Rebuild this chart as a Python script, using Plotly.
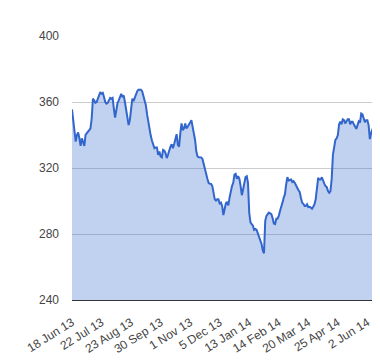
import plotly.graph_objects as go

tick_labels = ["18 Jun 13", "22 Jul 13", "23 Aug 13", "30 Sep 13", "1 Nov 13",
               "5 Dec 13", "13 Jan 14", "14 Feb 14", "20 Mar 14", "25 Apr 14", "2 Jun 14"]
tick_every = 24

prices = [
    355.5, 348, 341, 336, 340, 341.5, 338, 333.4, 338, 335,
    333.4, 340, 341.5, 342, 343, 344, 350, 362, 361, 359.5,
    360, 362.5, 364, 366, 365, 365.5, 363, 360, 359, 359.5,
    361, 362.5, 362, 362.5, 356, 350.5, 355, 359.5, 361, 363,
    365, 363, 364, 360, 355, 351, 346, 349, 357, 362,
    360.5, 362.5, 365.5, 366.5, 367.5, 367.5, 367.5, 366.5, 364, 360.5,
    358, 352.5, 347.5, 343, 339.5, 336.5, 333.5, 332, 332.5, 332.5,
    328, 330, 327, 326.4, 331, 330.5, 329, 326, 328, 331.5,
    333, 334.4, 332, 334.5, 338, 340.5, 334, 333, 341, 347,
    343, 344, 347, 344, 345, 346, 347.5, 349, 345, 340.5,
    337, 330, 327, 326.5, 326.4, 326.4, 325.5, 323, 319.5, 316.5,
    313.5, 311, 310.5, 310.4, 309, 305, 301, 300.3, 301, 301,
    298.5, 299, 297, 291.5, 295, 298.5, 299.5, 297.3, 302, 306.5,
    309, 311, 316, 316.5, 313.5, 315, 313.5, 309, 303.5, 307,
    311, 314.5, 315, 311, 293, 287, 286, 285, 282.5, 283,
    282.5, 280.5, 277.3, 276.5, 274, 270, 268.3, 288, 291, 292,
    293, 292.5, 292, 289.5, 286.3, 286, 289.3, 289.3, 291, 294,
    296, 299, 302, 304, 310, 314.4, 312.5, 313, 313, 311.5,
    312, 311, 309, 308, 306.5, 305.5, 302, 299, 298.3, 297,
    297, 298, 296.3, 296.5, 296, 295.3, 296.5, 298, 301, 306,
    314, 313, 313, 314.4, 312, 310.5, 309, 308.4, 306, 305,
    306, 313.4, 328, 334, 337, 338, 340, 346.5, 348, 346.5,
    349.5, 349, 347, 348.3, 349.5, 349.5, 346.5, 348, 348, 346.5,
    344.5, 343.7, 346, 348.3, 347.5, 353, 352.5, 349.5, 347.7, 349,
    349, 346, 337.5, 341, 344, 345.5, 351, 352,
]

x_idx = list(range(len(prices)))
tick_vals = [i * tick_every for i in range(len(tick_labels))]

fig = go.Figure()
fig.add_trace(go.Scatter(
    x=x_idx, y=prices, mode="lines",
    line=dict(color="#3366cc", width=2),
    fill="tozeroy", fillcolor="rgba(51,102,204,0.3)",
    hoverinfo="skip",
))

font = dict(family="Liberation Sans, Arial, sans-serif", size=12, color="#444444")

fig.update_layout(
    width=372, height=352,
    margin=dict(l=64, r=4, t=28, b=58),
    paper_bgcolor="white", plot_bgcolor="white",
    showlegend=False,
    font=font,
    xaxis=dict(
        range=[0, len(prices) - 1],
        tickmode="array", tickvals=tick_vals, ticktext=tick_labels,
        tickangle=-32, showgrid=False, zeroline=False,
        showline=True, linecolor="#333333", linewidth=1,
        ticks="", tickfont=font, ticklabelstandoff=10,
    ),
    yaxis=dict(
        range=[240, 400],
        tickmode="array", tickvals=[240, 280, 320, 360, 400],
        showgrid=True, gridcolor="#cccccc", gridwidth=1,
        zeroline=False, showline=False, ticks="",
        tickfont=font, ticklabelstandoff=12,
    ),
)

fig.write_html("out.html")
